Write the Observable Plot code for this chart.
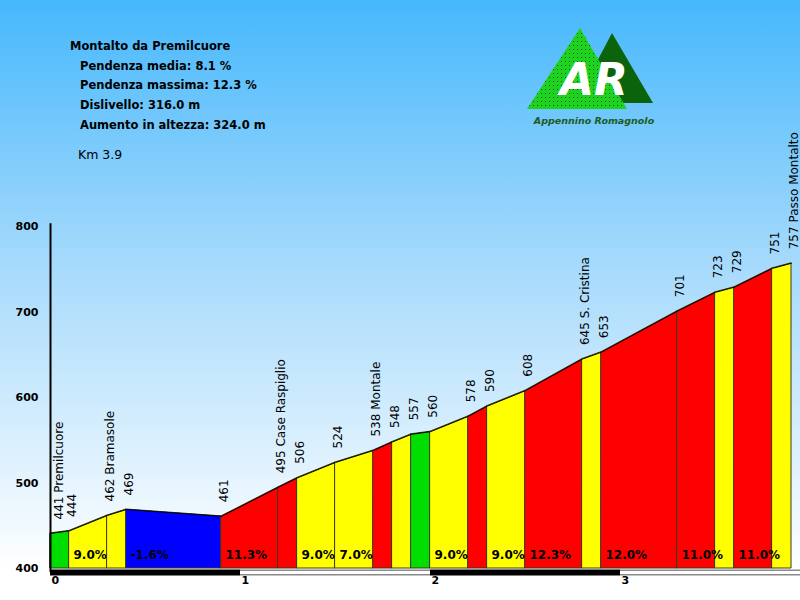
<!DOCTYPE html>
<html>
<head>
<meta charset="utf-8">
<script src="https://cdn.jsdelivr.net/npm/d3@7"></script>
<script src="https://cdn.jsdelivr.net/npm/@observablehq/plot@0.6"></script>
<style>
  html, body { margin: 0; padding: 0; }
  #wrap { position: relative; width: 800px; height: 600px; overflow: hidden;
    background: linear-gradient(to bottom, #46b8fc 0%, #a6dafc 44%, #ffffff 95%); }
  #chart { position: absolute; left: 0; top: 0; }
  #header, #logo { position: absolute; left: 0; top: 0; }
</style>
</head>
<body>
<div id="wrap">
  <div id="chart"></div>
  <svg id="header" width="400" height="180" style="font-family:'DejaVu Sans';">
    <text x="70" y="50" font-size="11.5" font-weight="bold" fill="#000">Montalto da Premilcuore</text>
    <text x="80" y="69.5" font-size="11.5" font-weight="bold" fill="#000">Pendenza media: 8.1 %</text>
    <text x="80" y="89" font-size="11.5" font-weight="bold" fill="#000">Pendenza massima: 12.3 %</text>
    <text x="80" y="109" font-size="11.5" font-weight="bold" fill="#000">Dislivello: 316.0 m</text>
    <text x="80" y="129" font-size="11.5" font-weight="bold" fill="#000">Aumento in altezza: 324.0 m</text>
    <text x="78" y="159" font-size="12.5" fill="#000">Km 3.9</text>
  </svg>
  <svg id="logo" width="800" height="140" style="font-family:'DejaVu Sans';">
    <defs>
      <pattern id="dots" width="4" height="4" patternUnits="userSpaceOnUse">
        <rect width="4" height="4" fill="#1fd21f"/>
        <rect x="1" y="1" width="1" height="1" fill="#0a5a0a"/>
      </pattern>
    </defs>
    <polygon points="612,33 653,103 575,103" fill="#0b640b"/>
    <polygon points="580,28 627,109 527,109" fill="url(#dots)"/>
    <text x="594" y="95" text-anchor="middle" font-size="44" font-weight="bold" font-style="italic" fill="#ffffff">AR</text>
    <text x="594" y="124" text-anchor="middle" font-size="9.5" font-weight="bold" font-style="italic" fill="#1c5c1c">Appennino Romagnolo</text>
  </svg>
</div>
<script>
// ---- data ----
const kms = [0, 0.1, 0.3, 0.4, 0.9, 1.2, 1.3, 1.5, 1.7, 1.8, 1.9, 2.0, 2.2, 2.3, 2.5, 2.8, 2.9, 3.3, 3.5, 3.6, 3.8, 3.9];
const elevations = [441, 444, 462, 469, 461, 495, 506, 524, 538, 548, 557, 560, 578, 590, 608, 645, 653, 701, 723, 729, 751, 757];
const placeNames = ["Premilcuore", "", "Bramasole", "", "", "Case Raspiglio", "", "", "Montale", "", "", "", "", "", "", "S. Cristina", "", "", "", "", "", "Passo Montalto"];
const kmTicks = [0, 1, 2, 3];
const elevTicks = [400, 500, 600, 700, 800];

// ---- derived tables ----
const points = kms.map((k, i) => ({
  km: k, elev: elevations[i],
  label: elevations[i] + (placeNames[i] ? " " + placeNames[i] : "")
}));
const segments = [];
const areaRows = [];
for (let i = 0; i < kms.length - 1; i++) {
  const slope = Math.round((elevations[i + 1] - elevations[i]) / ((kms[i + 1] - kms[i]) * 1000) * 1000) / 10;
  const seg = { seg: i, k0: kms[i], k1: kms[i + 1], slope, width: Math.round((kms[i + 1] - kms[i]) * 10) / 10 };
  segments.push(seg);
  areaRows.push({ seg: i, km: kms[i], elev: elevations[i], slope });
  areaRows.push({ seg: i, km: kms[i + 1], elev: elevations[i + 1], slope });
}
const xMax = 750 / 190;
const kmBars = kmTicks.map((k, i) => ({ start: k, end: Math.min(k + 1, xMax), dark: i % 2 === 0 }));

const chart = Plot.plot({
  width: 800,
  height: 600,
  marginLeft: 50,
  marginRight: 0,
  marginTop: 226,
  marginBottom: 32,
  x: { domain: [0, xMax], axis: null },
  y: { domain: [400, 800], axis: null },
  color: { type: "threshold", domain: [0, 5, 10], range: ["#0000ff", "#00dd00", "#ffff00", "#ff0000"] },
  style: { background: "transparent", fontFamily: "DejaVu Sans", overflow: "visible" },
  marks: [
    Plot.areaY(areaRows, { x: "km", y1: 400, y2: "elev", z: "seg", fill: "slope", stroke: "#3a3a1a", strokeWidth: 1 }),
    Plot.line(points, { x: "km", y: "elev", stroke: "#000", strokeWidth: 1 }),
    Plot.text(segments.filter(d => d.width >= 0.2), {
      x: "k0", y: 400, text: d => d.slope.toFixed(1) + "%",
      textAnchor: "start", dx: 4, dy: -13, fontSize: 12, fontWeight: "bold", fill: "#000"
    }),
    Plot.text(points.slice(0, 1), {
      x: "km", y: "elev", text: "label", rotate: -90, textAnchor: "start",
      dx: 9, dy: -14, fontSize: 12, fill: "#000"
    }),
    Plot.text(points.slice(1), {
      x: "km", y: "elev", text: "label", rotate: -90, textAnchor: "start",
      dx: 3, dy: -14, fontSize: 12, fill: "#000"
    }),
    // km scale bar
    Plot.ruleY(kmBars.filter(d => !d.dark), { y: 400, x1: "start", x2: "end", stroke: "#8a8a8a", strokeWidth: 6, dy: 4 }),
    Plot.ruleY(kmBars.filter(d => !d.dark), { y: 400, x1: "start", x2: "end", stroke: "#ffffff", strokeWidth: 3, dy: 4 }),
    Plot.ruleY(kmBars.filter(d => d.dark), { y: 400, x1: "start", x2: "end", stroke: "#000000", strokeWidth: 6, dy: 4 }),
    // y axis line
    Plot.ruleX([0], { y1: 400, y2: 808, stroke: "#000", strokeWidth: 2, dy: 4 }),
    Plot.text(elevTicks, { x: 0, y: d => d, text: d => String(d), textAnchor: "end", dx: -12, fontSize: 11, fontWeight: "bold", fill: "#000" }),
    Plot.text(kmTicks, { x: d => d, y: 400, text: d => String(d), textAnchor: "start", dx: 1, dy: 12, fontSize: 11, fontWeight: "bold", fill: "#000" })
  ]
});
document.getElementById("chart").appendChild(chart);
</script>
</body>
</html>
